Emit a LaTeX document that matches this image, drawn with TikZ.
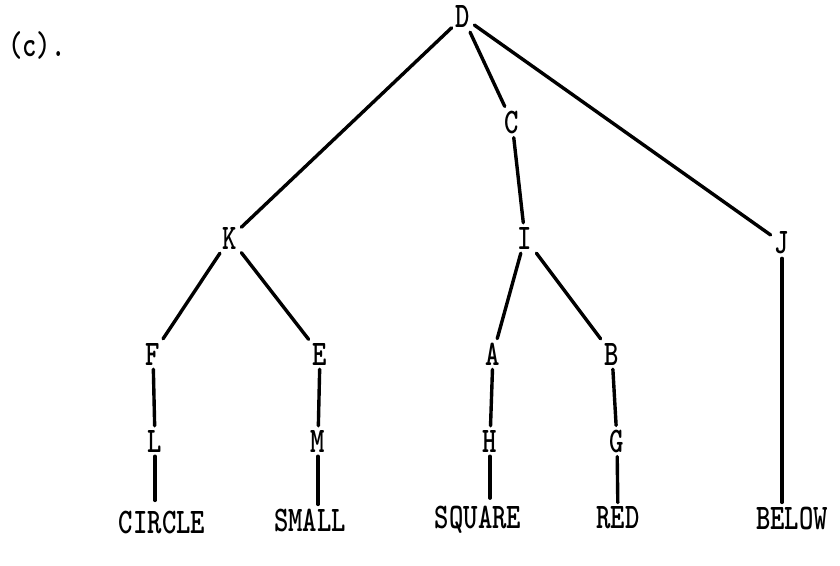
\documentclass[tikz,border=0pt]{standalone}
\newcommand{\tw}[1]{\scalebox{0.76}[1]{#1}}
\begin{document}
\begin{tikzpicture}[x=1pt,y=-1pt,
  lbl/.style={font=\fontsize{36}{36}\selectfont\ttfamily\bfseries, inner sep=4pt},
  edge/.style={line width=3.4pt, line cap=round}]
\useasboundingbox (0,0) rectangle (840,565);
\node[lbl] (c) at (37,45) {\tw{(c).}};
\node[lbl] (D) at (463,17) {\tw{D}};
\node[lbl] (C) at (512,122) {\tw{C}};
\node[lbl] (K) at (230,238) {\tw{K}};
\node[lbl] (I) at (525,238) {\tw{I}};
\node[lbl] (J) at (782,243) {\tw{J}};
\node[lbl] (F) at (153,354) {\tw{F}};
\node[lbl] (E) at (320,354) {\tw{E}};
\node[lbl] (A) at (493,354) {\tw{A}};
\node[lbl] (B) at (612,354) {\tw{B}};
\node[lbl] (L) at (155,441) {\tw{L}};
\node[lbl] (M) at (318,441) {\tw{M}};
\node[lbl] (H) at (490,441) {\tw{H}};
\node[lbl] (G) at (617,441) {\tw{G}};
\node[lbl] (CIRCLE) at (162,522) {\tw{CIRCLE}};
\node[lbl] (SMALL) at (310,520) {\tw{SMALL}};
\node[lbl] (SQUARE) at (478,520) {\tw{SQUARE}};
\node[lbl] (RED) at (618,518) {\tw{RED}};
\node[lbl] (BELOW) at (792,518) {\tw{BELOW}};
\draw[edge] (D) -- (K);
\draw[edge] (D) -- (C);
\draw[edge] (C) -- (I);
\draw[edge] (D) -- (J);
\draw[edge] (K) -- (F);
\draw[edge] (K) -- (E);
\draw[edge] (I) -- (A);
\draw[edge] (I) -- (B);
\draw[edge] (J.south) -- (J.south |- BELOW.north);
\draw[edge] (F) -- (L);
\draw[edge] (E) -- (M);
\draw[edge] (A) -- (H);
\draw[edge] (B) -- (G);
\draw[edge] (L.south) -- ([yshift=6pt]L.south |- CIRCLE.north);
\draw[edge] (M.south) -- (M.south |- SMALL.north);
\draw[edge] (H.south) -- ([yshift=4pt]H.south |- SQUARE.north);
\draw[edge] (G) -- (RED);
\end{tikzpicture}
\end{document}
